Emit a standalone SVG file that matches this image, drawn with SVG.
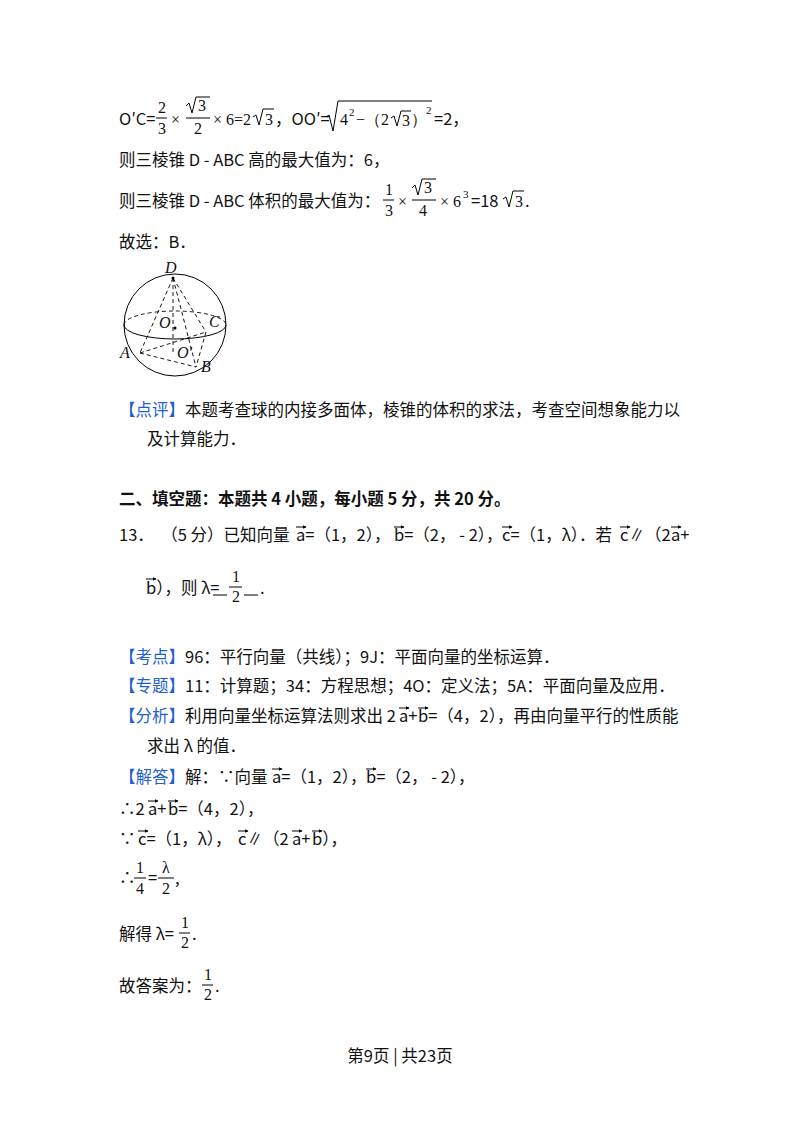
<svg xmlns="http://www.w3.org/2000/svg" width="800" height="1132" viewBox="0 0 800 1132">
<defs>
<marker id="ah" markerWidth="4" markerHeight="4" refX="3.5" refY="2" orient="auto" markerUnits="userSpaceOnUse"><path d="M0,0 L4,2 L0,4 z" fill="#000"/></marker>
</defs>
<style>
text{font-family:"Noto Sans CJK SC","Noto Sans",sans-serif;font-size:16.5px;fill:#111}
.m{font-family:"Liberation Serif",serif;font-size:16px}
.s{font-size:11px}
.b{fill:#1f5fd0}
.bold{font-weight:bold}
.v{stroke:#000;stroke-width:1;marker-end:url(#ah)}
.l{stroke:#000;stroke-width:1;fill:none}
.d{stroke:#000;stroke-width:0.9;fill:none;stroke-dasharray:4,3}
</style>
<rect width="800" height="1132" fill="#fff"/>
<!-- line 1 -->
<text x="119" y="125">O′C=</text>
<text class="m" x="158" y="113">2</text><line class="l" x1="156" y1="118" x2="167" y2="118"/><text class="m" x="158" y="134">3</text>
<text class="m" x="171" y="125">×</text>
<path class="l" d="M186,106 L189,103 L192,113 L196,97 L210,97"/><text class="m" x="198" y="111">3</text>
<line class="l" x1="186" y1="118" x2="210" y2="118"/><text class="m" x="194" y="134">2</text>
<text class="m" x="213" y="125">× 6=2</text>
<path class="l" d="M253,117 L256,115 L259,125 L263,109 L274,109"/><text class="m" x="265" y="125">3</text>
<text x="275" y="125">，OO′=</text>
<path class="l" d="M326,117 L329,115 L333,131 L338,101 L432,101"/>
<text class="m" x="340" y="125">4</text><text class="m s" x="349" y="116">2</text>
<text class="m" x="356" y="125">−（2</text>
<path class="l" d="M391,118 L394,116 L397,126 L401,111 L411,111"/><text class="m" x="402" y="126">3</text>
<text class="m" x="411" y="125">）</text><text class="m s" x="426" y="114">2</text>
<text x="434" y="125">=2，</text>
<text x="119" y="166">则三棱锥 D - ABC 高的最大值为：6，</text>
<text x="119" y="207">则三棱锥 D - ABC 体积的最大值为：</text>
<g transform="translate(8,0)">
<text class="m" x="377" y="195">1</text><line class="l" x1="375" y1="200" x2="386" y2="200"/><text class="m" x="377" y="216">3</text>
<text class="m" x="390" y="207">×</text>
<path class="l" d="M404,188 L407,185 L410,195 L414,179 L428,179"/><text class="m" x="416" y="193">3</text>
<line class="l" x1="404" y1="200" x2="428" y2="200"/><text class="m" x="411" y="216">4</text>
<text class="m" x="432" y="207">× 6</text><text class="m s" x="455" y="198">3</text>
<text x="463" y="207">=18</text>
<path class="l" d="M495,199 L498,197 L501,207 L505,191 L516,191"/><text class="m" x="507" y="207">3</text>
<text x="517" y="207">.</text>
</g>
<text x="119" y="248">故选：B．</text>
<!-- sphere figure -->
<g id="sphere">
<circle class="l" cx="175" cy="325" r="51"/>
<path class="l" d="M124,325 A51,14 0 0 0 226,325"/>
<path class="d" d="M124,325 A51,14 0 0 1 226,325"/>
<path class="d" d="M173,278 L140,353 M173,278 L196,367 M173,278 L206,332 M173,278 L173,352 M140,353 L196,367 M140,353 L206,332 M206,332 L196,367"/>
<circle cx="173" cy="278" r="1.5" fill="#000"/><circle cx="175" cy="328" r="1.5" fill="#000"/>
<text class="m" x="165" y="273" font-style="italic" font-size="13">D</text>
<text class="m" x="159" y="328" font-style="italic" font-size="13">O</text>
<text class="m" x="209" y="327" font-style="italic" font-size="13">C</text>
<text class="m" x="120" y="358" font-style="italic" font-size="13">A</text>
<text class="m" x="177" y="358" font-style="italic" font-size="13">O′</text>
<text class="m" x="201" y="372" font-style="italic" font-size="13">B</text>
</g>
<text x="119" y="416"><tspan class="b">【点评】</tspan>本题考查球的内接多面体，棱锥的体积的求法，考查空间想象能力以</text>
<text x="147" y="445">及计算能力．</text>
<text class="bold" x="119" y="505">二、填空题：本题共 4 小题，每小题 5 分，共 20 分。</text>
<text y="541"><tspan x="119" xml:space="preserve">13．  （5 分）已知向量</tspan><tspan x="296">a=（1，2），</tspan><tspan x="394">b=（2，  - 2），</tspan><tspan x="502">c=（1，λ）．若</tspan><tspan x="620">c∥（2</tspan><tspan x="671">a+</tspan></text>
<g id="vec13">
<line class="v" x1="296" y1="527" x2="306" y2="527"/><line class="v" x1="394" y1="527" x2="404" y2="527"/><line class="v" x1="502" y1="527" x2="512" y2="527"/><line class="v" x1="620" y1="527" x2="630" y2="527"/><line class="v" x1="671" y1="527" x2="681" y2="527"/><line class="v" x1="146" y1="579" x2="156" y2="579"/>
</g>
<text x="146" y="594">b），则 λ=</text>
<text class="m" x="232" y="582">1</text><text class="m" x="232" y="602">2</text>
<line class="l" x1="213" y1="595" x2="227" y2="595"/><line class="l" x1="229" y1="587" x2="242" y2="587"/><line class="l" x1="244" y1="595" x2="258" y2="595"/>
<text x="260" y="594">.</text>
<text x="119" y="663"><tspan class="b">【考点】</tspan>96：平行向量（共线）；9J：平面向量的坐标运算．</text>
<text x="119" y="692"><tspan class="b">【专题】</tspan>11：计算题；34：方程思想；4O：定义法；5A：平面向量及应用．</text>
<text y="722"><tspan x="119" class="b">【分析】</tspan><tspan x="185">利用向量坐标运算法则求出 2</tspan><tspan x="399">a+</tspan><tspan x="418">b=（4，2），再由向量平行的性质能</tspan></text>
<text x="147" y="752">求出 λ 的值．</text>
<text y="783"><tspan x="119" class="b">【解答】</tspan><tspan x="185">解：∵向量</tspan><tspan x="272">a=（1，2），</tspan><tspan x="366">b=（2，  - 2），</tspan></text>
<text y="815"><tspan x="119">∴2</tspan><tspan x="148">a+</tspan><tspan x="168">b=（4，2），</tspan></text>
<text y="845"><tspan x="119">∵</tspan><tspan x="138">c=（1，λ），</tspan><tspan x="238">c∥（2</tspan><tspan x="292">a+</tspan><tspan x="312">b），</tspan></text>
<g id="vecs">
<line class="v" x1="399" y1="708" x2="409" y2="708"/><line class="v" x1="418" y1="708" x2="428" y2="708"/>
<line class="v" x1="272" y1="769" x2="282" y2="769"/><line class="v" x1="366" y1="769" x2="376" y2="769"/>
<line class="v" x1="148" y1="801" x2="158" y2="801"/><line class="v" x1="168" y1="801" x2="178" y2="801"/>
<line class="v" x1="138" y1="831" x2="148" y2="831"/><line class="v" x1="238" y1="831" x2="248" y2="831"/><line class="v" x1="292" y1="831" x2="302" y2="831"/><line class="v" x1="312" y1="831" x2="322" y2="831"/>
</g>
<text x="119" y="884">∴</text>
<text class="m" x="136" y="873">1</text><line class="l" x1="134" y1="878" x2="146" y2="878"/><text class="m" x="136" y="894">4</text>
<text x="148" y="884">=</text>
<text class="m" x="162" y="873">λ</text><line class="l" x1="158" y1="878" x2="174" y2="878"/><text class="m" x="162" y="894">2</text>
<text x="175" y="884">,</text>
<text x="119" y="940">解得 λ=</text>
<text class="m" x="181" y="928">1</text><line class="l" x1="179" y1="933" x2="190" y2="933"/><text class="m" x="181" y="948">2</text>
<text x="192" y="940">.</text>
<text x="119" y="992">故答案为：</text>
<text class="m" x="204" y="980">1</text><line class="l" x1="202" y1="985" x2="213" y2="985"/><text class="m" x="204" y="1000">2</text>
<text x="215" y="992">.</text>
<text x="400" y="1062" text-anchor="middle" font-size="13">第9页 | 共23页</text>
</svg>
